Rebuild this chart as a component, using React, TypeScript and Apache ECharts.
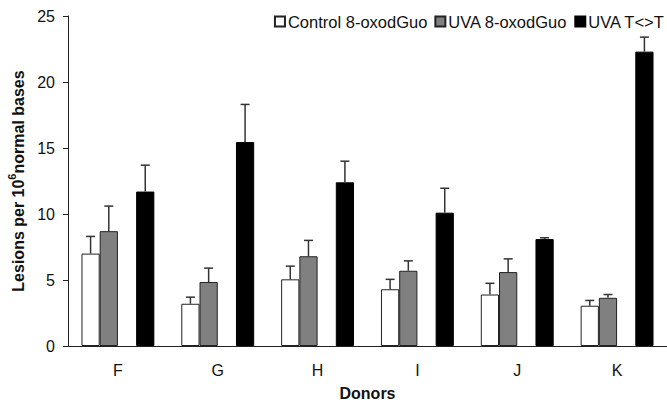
import React, { useEffect, useRef } from "react";
import * as echarts from "echarts";

const donors = ["F", "G", "H", "I", "J", "K"];
const controlOxo = [7.0, 3.2, 5.05, 4.3, 3.9, 3.05];
const controlOxoErr = [1.3, 0.5, 1.0, 0.75, 0.85, 0.4];
const uvaOxo = [8.7, 4.85, 6.8, 5.7, 5.6, 3.65];
const uvaOxoErr = [1.9, 1.05, 1.2, 0.75, 1.0, 0.25];
const uvaTT = [11.7, 15.45, 12.4, 10.1, 8.1, 22.3];
const uvaTTErr = [2.0, 2.85, 1.6, 1.85, 0.1, 1.1];
const yTicks = { min: 0, max: 25, interval: 5 };

const CAT_GAP = 0.27;
const N_SLOTS = 4;

function errorSeries(values: number[], errs: number[], slot: number) {
  return {
    type: "custom",
    z: 5,
    silent: true,
    data: values.map((v, i) => [i, v, v + errs[i]]),
    renderItem: (params: any, api: any) => {
      const idx = api.value(0);
      const base = api.coord([idx, api.value(1)]);
      const top = api.coord([idx, api.value(2)]);
      const band = api.size([1, 0])[0];
      const bw = (band * (1 - CAT_GAP)) / N_SLOTS;
      const x = base[0] - (band * (1 - CAT_GAP)) / 2 + bw * (slot + 0.5);
      const half = 4.5;
      const style = { stroke: "#333", lineWidth: 1.5 };
      return {
        type: "group",
        children: [
          { type: "line", shape: { x1: x, y1: base[1], x2: x, y2: top[1] }, style },
          { type: "line", shape: { x1: x - half, y1: top[1], x2: x + half, y2: top[1] }, style },
        ],
      };
    },
  };
}

export default function App() {
  const ref = useRef<HTMLDivElement>(null);
  useEffect(() => {
    if (!ref.current) return;
    const chart = echarts.init(ref.current, null, { renderer: "svg" });
    const font = "Liberation Sans, Arial, sans-serif";
    chart.setOption({
      animation: false,
      textStyle: { fontFamily: font },
      grid: { left: 68, right: 0, top: 16, bottom: 57, outerBoundsMode: "none" },
      legend: {
        data: ["Control 8-oxodGuo", "UVA 8-oxodGuo", "UVA T<>T"],
        right: 2,
        top: 13,
        padding: 0,
        itemGap: 7,
        itemWidth: 10,
        itemHeight: 10,
        icon: "rect",
        textStyle: { fontSize: 16.5, color: "#111", fontFamily: font, padding: [0, 0, 0, -2] },
      },
      xAxis: {
        type: "category",
        data: donors,
        name: "Donors",
        nameLocation: "middle",
        nameGap: 39,
        nameTextStyle: { fontSize: 16, fontWeight: "bold", color: "#111", fontFamily: font },
        axisLine: { lineStyle: { color: "#222", width: 1 } },
        axisTick: { length: 5, lineStyle: { color: "#555" } },
        axisLabel: { fontSize: 16, color: "#111", margin: 16, fontFamily: font },
      },
      yAxis: {
        type: "value",
        min: yTicks.min,
        max: yTicks.max,
        interval: yTicks.interval,
        name: "{a|Lesions per 10}{s|6}{a|normal bases}",
        nameLocation: "middle",
        nameGap: 34,
        nameTextStyle: {
          rich: {
            a: { fontSize: 16, fontWeight: "bold", color: "#111", fontFamily: font, lineHeight: 20, verticalAlign: "bottom" },
            s: { fontSize: 11, fontWeight: "bold", color: "#111", fontFamily: font, lineHeight: 20, verticalAlign: "top", padding: [0, 0, 9, 0] },
          },
        },
        splitLine: { show: false },
        axisLine: { show: true, lineStyle: { color: "#222", width: 1 } },
        axisTick: { show: true, length: 5, lineStyle: { color: "#222" } },
        axisLabel: { fontSize: 16, color: "#111", margin: 13, fontFamily: font },
      },
      series: [
        {
          name: "Control 8-oxodGuo",
          type: "bar",
          barGap: "0%",
          barCategoryGap: CAT_GAP * 100 + "%",
          data: controlOxo,
          itemStyle: { color: "#ffffff", borderColor: "#222", borderWidth: 1 },
        },
        {
          name: "UVA 8-oxodGuo",
          type: "bar",
          data: uvaOxo,
          itemStyle: { color: "#808080", borderColor: "#222", borderWidth: 1 },
        },
        {
          name: "spacer",
          type: "bar",
          data: donors.map(() => "-"),
          itemStyle: { color: "transparent" },
        },
        {
          name: "UVA T<>T",
          type: "bar",
          data: uvaTT,
          itemStyle: { color: "#000000", borderColor: "#000", borderWidth: 1 },
        },
        errorSeries(controlOxo, controlOxoErr, 0),
        errorSeries(uvaOxo, uvaOxoErr, 1),
        errorSeries(uvaTT, uvaTTErr, 3),
      ],
    });
    return () => chart.dispose();
  }, []);
  return (
    <div
      ref={ref}
      style={{ position: "absolute", left: 0, top: 0, width: 667, height: 403, background: "#fff" }}
    />
  );
}
